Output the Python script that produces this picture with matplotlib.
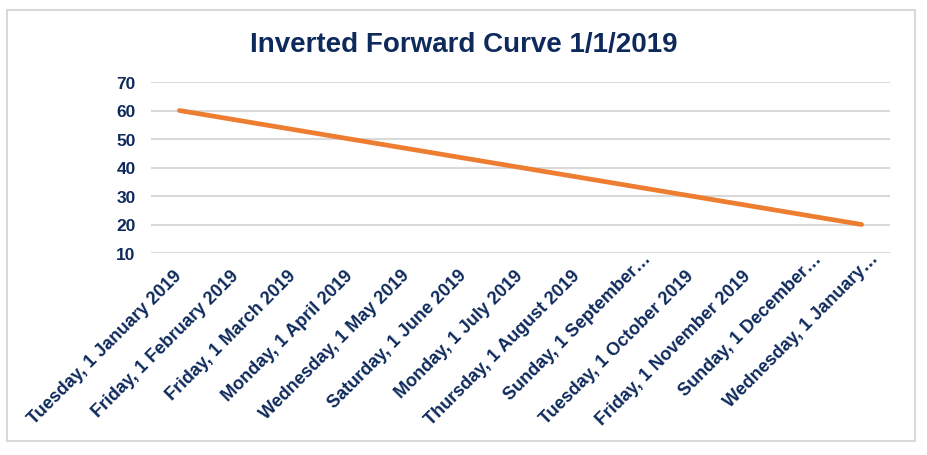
import matplotlib.pyplot as plt
from matplotlib.patches import Rectangle
from matplotlib.transforms import ScaledTranslation

plt.rcParams['font.family'] = ['Liberation Sans', 'DejaVu Sans']

dates = ['Tuesday, 1 January 2019', 'Friday, 1 February 2019', 'Friday, 1 March 2019',
         'Monday, 1 April 2019', 'Wednesday, 1 May 2019', 'Saturday, 1 June 2019',
         'Monday, 1 July 2019', 'Thursday, 1 August 2019', 'Sunday, 1 September\u2026',
         'Tuesday, 1 October 2019', 'Friday, 1 November 2019', 'Sunday, 1 December\u2026',
         'Wednesday, 1 January\u2026']
prices = [60, 56.67, 53.33, 50, 46.67, 43.33, 40, 36.67, 33.33, 30, 26.67, 23.33, 20]
yticks = [10, 20, 30, 40, 50, 60, 70]

navy = '#0E2A5C'
orange = '#ED7D31'
grid = '#D9D9D9'

fig = plt.figure(figsize=(9.27, 4.56), dpi=100)
fig.patches.append(Rectangle((7 / 927, 1 - 442 / 456), 908 / 927, 431 / 456,
                             transform=fig.transFigure, fill=False,
                             edgecolor=grid, linewidth=1.5))

ax = fig.add_axes([151 / 927, 1 - 254 / 456, 739 / 927, 171 / 456])
x = list(range(len(dates)))
ax.plot(x, prices, color=orange, linewidth=3.4, solid_capstyle='round', zorder=3)

ax.set_xlim(-0.5, len(dates) - 0.5)
ax.set_ylim(10, 70)
ax.set_yticks(yticks)
ax.set_xticks(x)
ax.set_xticklabels(dates, rotation=45, ha='right', va='center', rotation_mode='anchor')
ax.grid(axis='y', color=grid, linewidth=1.5)
ax.set_axisbelow(True)
for s in ax.spines.values():
    s.set_visible(False)
ax.tick_params(axis='both', length=0, labelcolor=navy)
ax.tick_params(axis='y', pad=11, labelsize=12.5)
ax.tick_params(axis='x', pad=14, labelsize=13)
for lbl in ax.get_xticklabels() + ax.get_yticklabels():
    lbl.set_fontweight('bold')

# truncated labels sit a bit further out, like in Excel
shift = ScaledTranslation(14 / 100, 17 / 100, fig.dpi_scale_trans)
for lbl in ax.get_xticklabels():
    if lbl.get_text().endswith('\u2026'):
        lbl.set_transform(lbl.get_transform() + shift)

fig.text(0.5, 1 - 45 / 456, 'Inverted Forward Curve 1/1/2019', ha='center', va='center',
         fontsize=20, fontweight='bold', color=navy)

fig.savefig('out.png', dpi=100)
